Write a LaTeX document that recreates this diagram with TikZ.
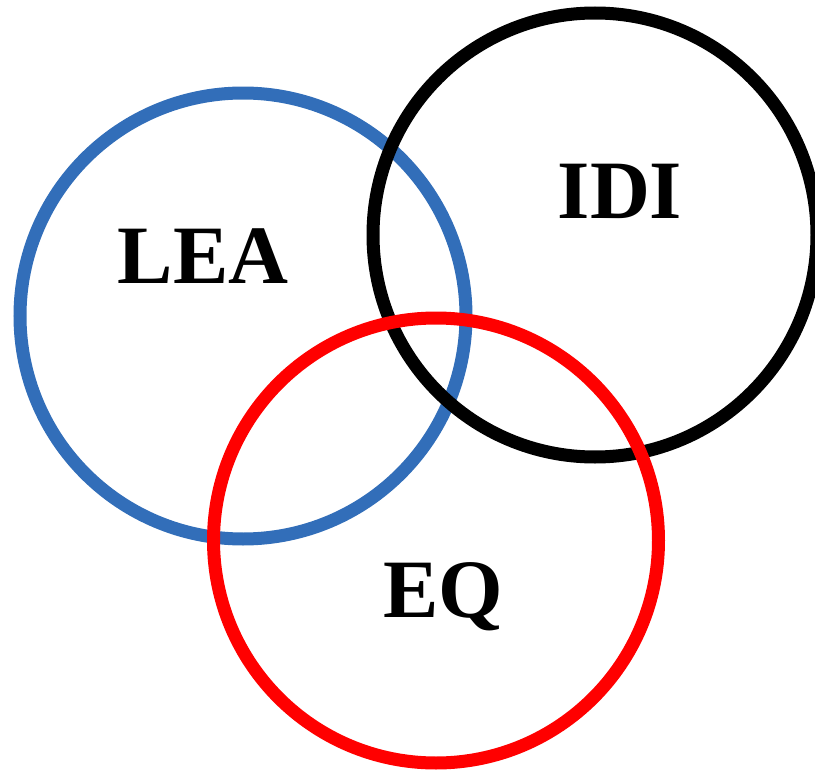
\documentclass[tikz,border=0pt]{standalone}
\usepackage{fontspec}
\setmainfont{Liberation Serif}
\definecolor{leablue}{RGB}{50,110,185}
\definecolor{eqred}{RGB}{255,0,0}
\begin{document}
\begin{tikzpicture}[x=1pt,y=-1pt,
  ring/.style={line width=13pt},
  label/.style={font=\fontsize{83}{83}\selectfont\bfseries, anchor=base, inner sep=0pt}]
\useasboundingbox (0,0) rectangle (815,771);
\clip (0,0) rectangle (815,771);
% three overlapping rings
\draw[ring, leablue] (243,316) circle[radius=223];
\draw[ring, black] (595,235) circle[radius=222];
\draw[ring, eqred] (436,540.5) circle[radius=222.5];
% labels
\node[label] (lea) at (203,283) {LEA};
\node[label] (idi) at (620,218) {IDI};
\node[label] (eq) at (443,617) {EQ};
\end{tikzpicture}
\end{document}
